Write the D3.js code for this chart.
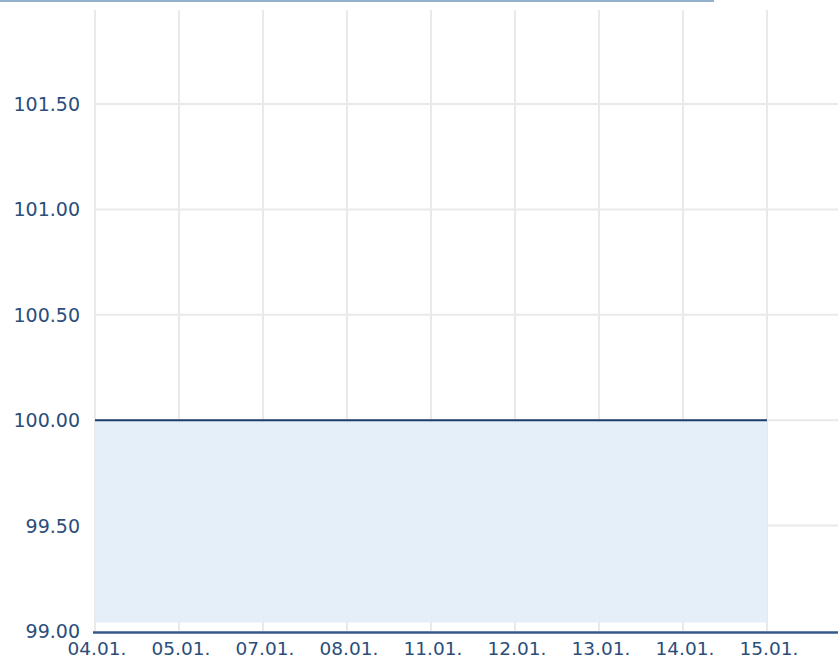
<!DOCTYPE html>
<html>
<head>
<meta charset="utf-8">
<script src="https://cdn.jsdelivr.net/npm/d3@7"></script>
<style>
  html, body { margin: 0; padding: 0; background: #fff; }
  svg { display: block; }
  text { font-family: "DejaVu Sans", Verdana, sans-serif; fill: #2b4e7a; }
</style>
</head>
<body>
<svg id="chart" width="838" height="660"></svg>
<script>
// ---- data ----
const categories = ["04.01.", "05.01.", "07.01.", "08.01.", "11.01.", "12.01.", "13.01.", "14.01.", "15.01."];
const values = [100, 100, 100, 100, 100, 100, 100, 100, 100];
const yTicks = [99.0, 99.5, 100.0, 100.5, 101.0, 101.5];
const areaBase = 99.04;

// ---- layout ----
const W = 838, H = 660;
const plotLeft = 95, plotRight = 838, plotTop = 10;
const svg = d3.select("#chart");

const x = d3.scalePoint().domain(categories).range([95, 767]);
const y = d3.scaleLinear().domain([99, 101.5]).range([631, 104]);

// top decorative rule
svg.append("rect").attr("x", 0).attr("y", 0).attr("width", 714).attr("height", 2).attr("fill", "#93afca");

// vertical grid lines
svg.append("g").selectAll("line").data(categories).join("line")
  .attr("x1", d => x(d)).attr("x2", d => x(d))
  .attr("y1", plotTop).attr("y2", y(99))
  .attr("stroke", "#e9e9e9").attr("stroke-width", 2);

// horizontal grid lines
svg.append("g").selectAll("line").data(yTicks.filter(t => t > 99)).join("line")
  .attr("x1", plotLeft).attr("x2", plotRight)
  .attr("y1", d => y(d)).attr("y2", d => y(d))
  .attr("stroke", "#e9e9e9").attr("stroke-width", 2);

// area
const area = d3.area()
  .x((d, i) => x(categories[i]))
  .y0(y(areaBase))
  .y1(d => y(d));
svg.append("path").datum(values).attr("d", area).attr("fill", "#e2eef8").attr("fill-opacity", 0.92);

// line
const line = d3.line().x((d, i) => x(categories[i])).y(d => y(d));
svg.append("path").datum(values).attr("d", line)
  .attr("fill", "none").attr("stroke", "#1d3d6b").attr("stroke-width", 2);

// x axis line
svg.append("line").attr("x1", 93).attr("x2", W).attr("y1", 632.5).attr("y2", 632.5)
  .attr("stroke", "#37598a").attr("stroke-width", 2.5);

// y labels
svg.append("g").selectAll("text").data(yTicks).join("text")
  .attr("x", 80).attr("y", d => y(d) + 7)
  .attr("text-anchor", "end")
  .style("font-size", "19px")
  .text(d => d3.format(".2f")(d));

// x labels
svg.append("g").selectAll("text").data(categories).join("text")
  .attr("x", d => x(d) + 2).attr("y", 655)
  .attr("text-anchor", "middle")
  .style("font-size", "18.5px")
  .text(d => d);
</script>
</body>
</html>
